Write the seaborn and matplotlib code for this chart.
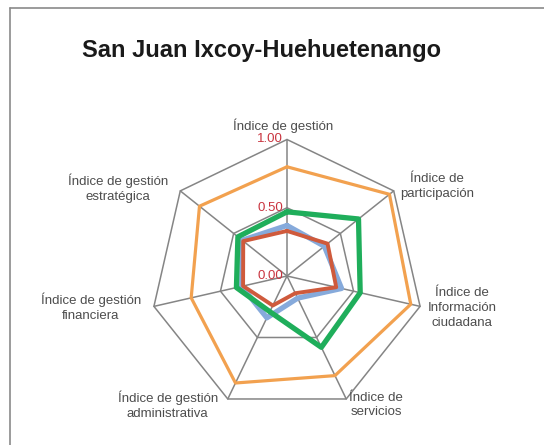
import numpy as np
import pandas as pd
import matplotlib
matplotlib.use("Agg")
import matplotlib.pyplot as plt
from matplotlib.lines import Line2D
import seaborn as sns

# ---------------- data ----------------
categorias = [
    "Índice de gestión",
    "Índice de\nparticipación",
    "Índice de\nInformación\nciudadana",
    "Índice de\nservicios",
    "Índice de gestión\nadministrativa",
    "Índice de gestión\nfinanciera",
    "Índice de gestión\nestratégica",
]
serie_naranja = [0.80, 0.96, 0.93, 0.81, 0.87, 0.72, 0.82]
serie_verde = [0.47, 0.67, 0.55, 0.58, 0.29, 0.38, 0.46]
serie_azul = [0.37, 0.35, 0.41, 0.18, 0.34, 0.34, 0.42]
serie_roja = [0.33, 0.38, 0.37, 0.14, 0.24, 0.33, 0.41]
ticks = [0.0, 0.5, 1.0]
tick_labels = ["0.00", "0.50", "1.00"]
grid_levels = [0.5, 1.0]

# ---------------- style ----------------
sns.set_theme(style="white")
plt.rcParams["font.family"] = ["Liberation Sans", "DejaVu Sans"]

W, H, DPI = 544, 445, 100
fig = plt.figure(figsize=(W / DPI, H / DPI), dpi=DPI)
fig.patch.set_facecolor("white")

cx, cy, R = 287.0, 276.0, 136.5
ax = fig.add_axes([(cx - R) / W, (H - cy - R) / H, 2 * R / W, 2 * R / H],
                  projection="polar")
ax.set_theta_offset(np.pi / 2)
ax.set_theta_direction(-1)
ax.set_ylim(0, 1)
ax.set_xticks([])
ax.set_yticks([])
ax.grid(False)
ax.spines["polar"].set_visible(False)
ax.patch.set_alpha(0)

n = len(categorias)
theta = np.arange(n) * 2 * np.pi / n
theta_c = np.append(theta, theta[0])

grid_col = "#858585"
# polygon grid
for lv in grid_levels:
    ax.plot(theta_c, [lv] * (n + 1), color=grid_col, lw=1.1, clip_on=False, zorder=1)
# spokes
for t in theta:
    ax.plot([t, t], [0, 1], color=grid_col, lw=1.1, clip_on=False, zorder=1)

def closed(v):
    return np.append(np.array(v, dtype=float), v[0])

series = [
    (serie_azul, "#86aadb", 3.8, 2),
    (serie_roja, "#cf5a3c", 2.8, 3),
    (serie_naranja, "#f2a14f", 2.3, 4),
    (serie_verde, "#1fae5b", 3.8, 5),
]
for vals, col, lw, z in series:
    df = pd.DataFrame({"theta": theta_c, "r": closed(vals)})
    sns.lineplot(data=df, x="theta", y="r", sort=False, estimator=None,
                 color=col, lw=lw, ax=ax, zorder=z, clip_on=False)
ax.set_xlabel("")
ax.set_ylabel("")
ax.set_ylim(0, 1)
ax.set_xticks([])
ax.set_yticks([])

# tick labels (red)
for tv, tl in zip(ticks, tick_labels):
    ax.annotate(tl, xy=(0, tv), xytext=(-4, 0), textcoords="offset pixels",
                ha="right", va="center", fontsize=9.5, color="#c9343f",
                annotation_clip=False, zorder=6)

# category labels
offsets = [(-4, 14), (43, 4), (42, -2), (30, -6), (-60, -6), (-63, -1), (-62, 3)]
for t, lab, (dx, dy) in zip(theta, categorias, offsets):
    ax.annotate(lab, xy=(t, 1.0), xytext=(dx, dy), textcoords="offset pixels",
                ha="center", va="center", multialignment="center",
                fontsize=9.5, color="#4d4d4d", linespacing=1.32,
                annotation_clip=False)

# title
fig.text(262 / W, 1 - 50 / H, "San Juan Ixcoy-Huehuetenango",
         ha="center", va="center", fontsize=17, fontweight="bold", color="#1a1a1a")

# frame (left and top edges visible)
xl = 9.5 / W
yt = 1 - 7.5 / H
fig.add_artist(Line2D([xl, xl], [0, yt], transform=fig.transFigure,
                      color="#8a8a8a", lw=1.2))
fig.add_artist(Line2D([xl, 1], [yt, yt], transform=fig.transFigure,
                      color="#8a8a8a", lw=1.2))

fig.savefig("out.png", dpi=DPI, facecolor="white")
